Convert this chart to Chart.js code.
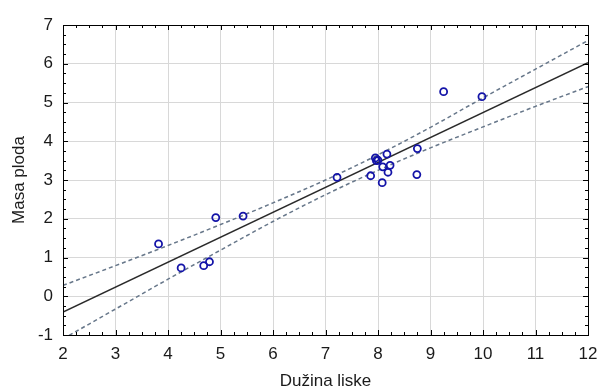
<!DOCTYPE html>
<html>
<head>
<meta charset="utf-8">
<script src="https://cdn.jsdelivr.net/npm/chart.js@4.4.1/dist/chart.umd.min.js"></script>
<style>
  html, body { margin: 0; padding: 0; background: #fff; }
  #wrap { width: 600px; height: 392px; }
</style>
</head>
<body>
<div id="wrap"><canvas id="canvass"></canvas></div>
<script>
// measured points (Dužina liske vs Masa ploda)
var xLen  = [3.82, 4.25, 4.68, 4.79, 4.91, 5.43, 7.22, 7.86, 7.95, 7.97, 8.00, 8.08, 8.09, 8.17, 8.19, 8.23, 8.74, 8.75, 9.25, 9.98];
var yMass = [1.35, 0.73, 0.79, 0.89, 2.03, 2.07, 3.07, 3.11, 3.57, 3.50, 3.51, 2.93, 3.34, 3.67, 3.20, 3.38, 3.14, 3.81, 5.28, 5.15];

// regression line, read at the plot edges
var fitX = [2, 12];
var fitY = [-0.41, 6.03];

// confidence band, read at each whole x
var bandX     = [2, 3, 4, 5, 6, 7, 8, 9, 10, 11, 12];
var bandUpper = [0.28, 0.79, 1.31, 1.85, 2.41, 3.00, 3.65, 4.36, 5.12, 5.86, 6.60];
var bandLower = [-1.10, -0.33, 0.44, 1.19, 1.93, 2.62, 3.25, 3.83, 4.37, 4.90, 5.41];

var xTicks = [2, 3, 4, 5, 6, 7, 8, 9, 10, 11, 12];
var yTicks = [-1, 0, 1, 2, 3, 4, 5, 6, 7];

function pts(xs, ys) {
    var out = [];
    for (var i = 0; i < xs.length; i++) out.push({x: xs[i], y: ys[i]});
    return out;
}

var FONT = "'Liberation Sans', Arial, sans-serif";

// frame + inward ticks on all four sides
var frameTicks = {
    id: 'frameTicks',
    afterDatasetsDraw: function (chart) {
        var c = chart.ctx, a = chart.chartArea;
        var sx = chart.scales.x, sy = chart.scales.y;
        c.save();
        c.strokeStyle = '#000';
        c.lineWidth = 1;
        c.beginPath();
        var v, p, len;
        for (v = xTicks[0]; v <= xTicks[xTicks.length - 1] + 1e-9; v += 0.25) {
            p = Math.round(sx.getPixelForValue(v)) + 0.5;
            len = Math.abs(v - Math.round(v)) < 1e-9 ? 5 : 3;
            c.moveTo(p, a.bottom); c.lineTo(p, a.bottom - len);
            c.moveTo(p, a.top); c.lineTo(p, a.top + len);
        }
        for (v = yTicks[0]; v <= yTicks[yTicks.length - 1] + 1e-9; v += 0.25) {
            p = Math.round(sy.getPixelForValue(v)) + 0.5;
            len = Math.abs(v - Math.round(v)) < 1e-9 ? 5 : 3;
            c.moveTo(a.left, p); c.lineTo(a.left + len, p);
            c.moveTo(a.right, p); c.lineTo(a.right - len, p);
        }
        c.stroke();
        c.strokeRect(Math.round(a.left) + 0.5, Math.round(a.top) + 0.5,
                     Math.round(a.right - a.left), Math.round(a.bottom - a.top));
        c.restore();
    }
};

try {
    var ctx = document.getElementById('canvass').getContext('2d');
    var myChart = new Chart(ctx, {
        type: 'scatter',
        data: {
            datasets: [{
                label: 'Masa ploda',
                data: pts(xLen, yMass),
                showLine: false,
                pointStyle: 'circle',
                pointRadius: 3.5,
                pointBorderWidth: 1.8,
                pointBorderColor: '#1414a8',
                pointBackgroundColor: 'rgba(255,255,255,0)',
                order: 0
            }, {
                label: 'fit',
                data: pts(fitX, fitY),
                showLine: true,
                borderColor: '#2a2a2a',
                borderWidth: 1.5,
                pointRadius: 0,
                order: 1
            }, {
                label: 'upper',
                data: pts(bandX, bandUpper),
                showLine: true,
                cubicInterpolationMode: 'monotone',
                borderColor: '#67778a',
                borderWidth: 1.5,
                borderDash: [4, 3],
                pointRadius: 0,
                order: 2
            }, {
                label: 'lower',
                data: pts(bandX, bandLower),
                showLine: true,
                cubicInterpolationMode: 'monotone',
                borderColor: '#67778a',
                borderWidth: 1.5,
                borderDash: [4, 3],
                pointRadius: 0,
                order: 2
            }]
        },
        options: {
            responsive: true,
            maintainAspectRatio: false,
            animation: false,
            layout: { padding: { left: 0, right: 12, top: 25, bottom: 0 } },
            plugins: { legend: { display: false }, tooltip: { enabled: false } },
            scales: {
                x: {
                    type: 'linear',
                    min: 2, max: 12,
                    afterBuildTicks: function (s) { s.ticks = xTicks.map(function (v) { return {value: v}; }); },
                    afterFit: function (s) { s.height = 57; s.paddingRight = 0; s.paddingLeft = 0; },
                    grid: { color: '#d8d8d8', lineWidth: 1, drawTicks: false },
                    border: { display: false },
                    ticks: { color: '#1a1a1a', padding: 9, maxRotation: 0, font: { family: FONT, size: 17 } },
                    title: { display: true, text: 'Dužina liske', color: '#1a1a1a',
                             padding: { top: 0, bottom: 0 }, font: { family: FONT, size: 17 } }
                },
                y: {
                    type: 'linear',
                    min: -1, max: 7,
                    afterBuildTicks: function (s) { s.ticks = yTicks.map(function (v) { return {value: v}; }); },
                    afterFit: function (s) { s.width = 63; s.paddingTop = 0; s.paddingBottom = 0; },
                    grid: { color: '#d8d8d8', lineWidth: 1, drawTicks: false },
                    border: { display: false },
                    ticks: { color: '#1a1a1a', padding: 10, font: { family: FONT, size: 17 } },
                    title: { display: true, text: 'Masa ploda', color: '#1a1a1a',
                             padding: { top: 9, bottom: 0 }, font: { family: FONT, size: 17 } }
                }
            }
        },
        plugins: [frameTicks]
    });
} catch (e) {
    console.log('We have encountered an error: ' + e);
}
</script>
</body>
</html>
